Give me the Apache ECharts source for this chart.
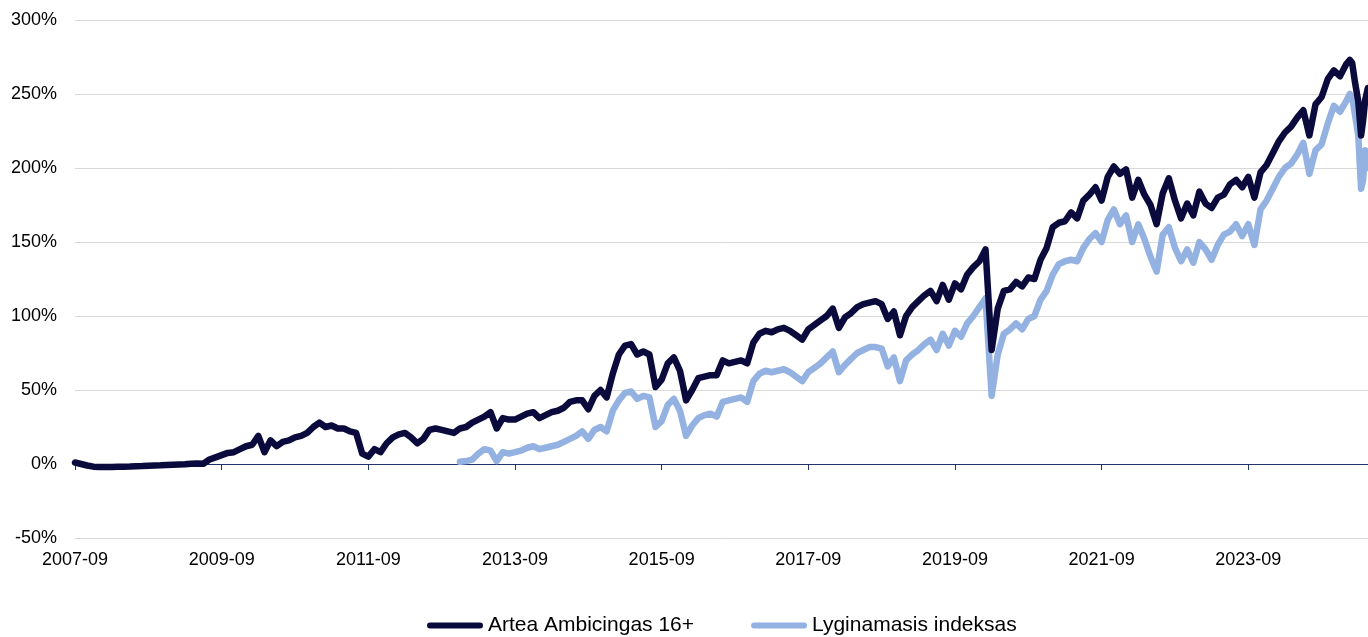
<!DOCTYPE html>
<html>
<head>
<meta charset="UTF-8">
<title>Artea Ambicingas 16+</title>
<script src="https://cdn.jsdelivr.net/npm/echarts@6/dist/echarts.min.js"></script>
<style>
	html,body{margin:0;padding:0;background:#fff;}
	#main{width:1368px;height:637px;}
</style>
</head>
<body>
<div id="main"></div>
<script type="text/javascript">
	// pirmas mėnuo (2007-09), toliau – mėnesinės reikšmės %
	var startYear = 2007, startMonth = 9;

	var artea = [
		1, 0, -1, -1.8, -2, -2, -2, -1.9, -1.8, -1.7,
		-1.5, -1.4, -1.2, -1.0, -0.9, -0.7, -0.5, -0.3, -0.1, 0.2,
		0.4, 0.2, 3, 4.5, 6, 7.5, 8, 10, 12, 13,
		19, 8, 16, 12, 15, 16, 18, 19, 21, 25,
		28, 25, 26, 24, 24, 22, 21, 7, 5, 10,
		8, 14, 18, 20, 21, 18, 14, 17, 23, 24,
		23, 22, 21, 24, 25, 28, 30, 32, 35, 24,
		31, 30, 30, 32, 34, 35, 31, 33, 35, 36,
		38, 42, 43, 43, 37, 46, 50, 45, 61, 74,
		80, 81, 74, 76, 74, 52, 57, 68, 72, 63,
		43, 50, 58, 59, 60, 60, 70, 68, 69, 70,
		68, 82, 88, 90, 89, 91, 92, 90, 87, 84,
		91, 94, 97, 100, 105, 92, 99, 102, 106, 108,
		109, 110, 108, 98, 103, 87, 100, 106, 110, 114,
		117, 110, 121, 111, 122, 118, 128, 133, 137, 145,
		77, 105, 117, 118, 123, 120, 126, 125, 138, 146,
		160, 163, 164, 170, 166, 178, 182, 187, 178, 194,
		201, 196, 199, 180, 192, 182, 175, 162, 183, 193,
		178, 166, 176, 168, 184, 176, 173, 180, 182, 189,
		192, 187, 194, 180, 197, 202, 210, 218, 224, 228,
		234, 239, 222, 243, 248, 260, 266, 262, 270
	];

	// lyginamasis indeksas prasideda 2012-12
	var indeksasStart = '2012-12';
	var indeksas = [
		1.5, 2, 3, 7, 10, 9, 2,
		8, 7, 8, 9, 11, 12, 10, 11, 12, 13,
		15, 17, 19, 22, 17, 23, 25, 22, 36, 43,
		48, 49, 44, 46, 45, 25, 29, 40, 44, 36,
		19, 26, 31, 33, 34, 32, 42, 43, 44, 45,
		42, 56, 61, 63, 62, 63, 64, 62, 59, 56,
		62, 65, 68, 72, 76, 62, 67, 71, 75, 77,
		79, 79, 78, 66, 72, 56, 70, 74, 77, 81,
		84, 77, 88, 80, 90, 86, 95, 100, 106, 112,
		46, 74, 88, 91, 95, 91, 98, 100, 111, 117,
		128, 135, 137, 138, 137, 146, 152, 156, 150, 165,
		172, 162, 168, 150, 162, 152, 140, 130, 155, 160,
		146, 137, 145, 136, 150, 145, 138, 148, 155, 157,
		162, 154, 162, 148, 172, 178, 186, 194, 200, 203,
		209, 217, 196, 212, 216, 230, 242, 238, 245
	];

	// paskutiniai taškai (tankesni)
	var tailDates = ['2025-01-20', '2025-02-01', '2025-02-15', '2025-03-01', '2025-03-15', '2025-03-25', '2025-04-05', '2025-04-18'];
	var tailArtea = [273, 271, 258, 245, 222, 232, 246, 254];
	var tailIndeksas = [250, 248, 236, 222, 186, 192, 212, 200];

	var tickLabels = ['2007-09', '2009-09', '2011-09', '2013-09', '2015-09', '2017-09', '2019-09', '2021-09', '2023-09'];
	var lastDate = '2025-04-19';

	function monthIdx(s){
		var p = s.split('-').map(Number);
		var d = p[2] || 1;
		return (p[0] - startYear) * 12 + (p[1] - startMonth) + (d - 1) / 30.5;
	}

	function build(values, first, tDates, tVals){
		var off = monthIdx(first), res = [];
		for (var i = 0; i < values.length; i++) res.push([off + i, values[i]]);
		for (var j = 0; j < tDates.length; j++) res.push([monthIdx(tDates[j]), tVals[j]]);
		return res;
	}

	var tickVals = tickLabels.map(monthIdx);
	var font = '"Liberation Sans", Arial, sans-serif';

	var myChart = echarts.init(document.getElementById('main'), null, {renderer: 'canvas'});
	var option = {
		animation: false,
		backgroundColor: '#fff',
		grid: {left: 75, right: 0, top: 20, bottom: 99, containLabel: false},
		legend: {
			data: ['Artea Ambicingas 16+', 'Lyginamasis indeksas'],
			left: 427, top: 615, padding: 0,
			itemWidth: 56, itemHeight: 6, itemGap: 57,
			icon: 'path://M3,0L53,0A3,3,0,0,1,53,6L3,6A3,3,0,0,1,3,0Z',
			textStyle: {fontFamily: font, fontSize: 21, color: '#000'}
		},
		xAxis: [{
			type: 'value', min: 0, max: monthIdx(lastDate),
			position: 'bottom',
			axisLine: {show: false, onZero: false},
			axisTick: {show: false},
			splitLine: {show: false},
			axisLabel: {
				customValues: tickVals,
				margin: 13,
				fontFamily: font, fontSize: 18, color: '#000',
				formatter: function (v){
					var k = Math.round(v);
					var y = startYear + Math.floor((startMonth - 1 + k) / 12);
					var m = (startMonth - 1 + k) % 12 + 1;
					return y + '-' + (m < 10 ? '0' + m : m);
				}
			}
		}, {
			type: 'value', min: 0, max: monthIdx(lastDate),
			position: 'bottom',
			axisLine: {show: true, onZero: true, lineStyle: {color: '#1f3468', width: 1.2}},
			axisTick: {show: true, customValues: tickVals, length: 6, lineStyle: {color: '#1f3468', width: 1}},
			axisLabel: {show: false},
			splitLine: {show: false}
		}],
		yAxis: {
			type: 'value', min: -50, max: 300, interval: 50,
			axisLine: {show: false},
			axisTick: {show: false},
			splitLine: {lineStyle: {color: '#d9d9d9', width: 1}},
			axisLabel: {
				margin: 18,
				fontFamily: font, fontSize: 18, color: '#000',
				formatter: '{value}%'
			}
		},
		series: [{
			name: 'Lyginamasis indeksas',
			type: 'line',
			xAxisIndex: 0,
			data: build(indeksas, indeksasStart, tailDates, tailIndeksas),
			showSymbol: false,
			symbol: 'none',
			color: '#94b2e1',
			lineStyle: {color: '#94b2e1', width: 6.5, cap: 'round', join: 'round'},
			z: 2
		}, {
			name: 'Artea Ambicingas 16+',
			type: 'line',
			xAxisIndex: 0,
			data: build(artea, startYear + '-0' + startMonth, tailDates, tailArtea),
			showSymbol: false,
			symbol: 'none',
			color: '#0a0a3c',
			lineStyle: {color: '#0a0a3c', width: 6.5, cap: 'round', join: 'round'},
			z: 3
		}]
	};
	myChart.setOption(option);
</script>
</body>
</html>
